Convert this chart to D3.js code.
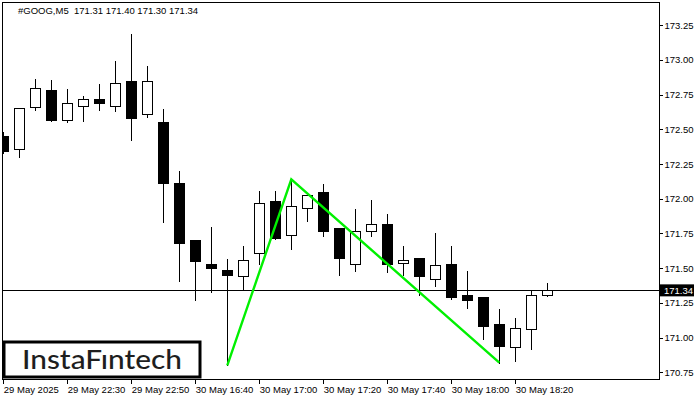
<!DOCTYPE html>
<html><head><meta charset="utf-8">
<script src="https://cdn.jsdelivr.net/npm/d3@7"></script>
<style>html,body{margin:0;padding:0;background:#fff;}svg{display:block;}</style>
</head><body>
<svg id="chart" width="700" height="400"></svg>
<script>
// ---- data ----
const symbol = "#GOOG,M5";
const lastOHLC = [171.31, 171.40, 171.30, 171.34];
const opens  = [172.45,172.36,172.66,172.78,172.57,172.67,172.72,172.67,172.85,172.61,
                172.55,172.11,171.70,171.53,171.49,171.44,171.61,171.98,171.74,171.93,
                172.05,171.79,171.53,171.77,171.82,171.54,171.57,171.42,171.53,171.31,
                171.29,171.10,170.93,171.06,171.31];
const highs  = [172.49,172.65,172.87,172.86,172.80,172.75,172.83,173.00,173.19,172.96,
                172.65,172.21,171.70,171.80,171.57,171.67,172.06,172.06,172.14,172.03,
                172.11,171.79,171.93,172.00,171.90,171.67,171.57,171.76,171.67,171.49,
                171.29,171.21,171.15,171.34,171.40];
const lows   = [172.33,172.30,172.64,172.56,172.55,172.56,172.64,172.63,172.42,172.59,
                171.83,171.41,171.27,171.33,170.80,171.35,171.53,171.71,171.64,171.84,
                171.73,171.45,171.48,171.73,171.47,171.45,171.31,171.37,171.28,171.21,
                170.99,170.82,170.83,170.92,171.30];
const closes = [172.34,172.65,172.80,172.57,172.69,172.72,172.69,172.83,172.58,172.85,
                172.11,171.68,171.55,171.50,171.45,171.56,171.97,171.72,171.95,172.03,
                171.77,171.57,171.77,171.82,171.53,171.56,171.44,171.52,171.29,171.27,
                171.08,170.94,171.07,171.31,171.34];
const timeTickIdx = [0,4,8,12,16,20,24,28,32];
const timeTickLabels = ["29 May 2025","29 May 22:30","29 May 22:50","30 May 16:40",
                        "30 May 17:00","30 May 17:20","30 May 17:40","30 May 18:00","30 May 18:20"];
const priceTicks = [170.75,171.00,171.25,171.50,171.75,172.00,172.25,172.50,172.75,173.00,173.25];
const currentPrice = 171.34;
const patternIdx = [14, 18, 31];
const patternVal = [170.80, 172.14, 170.82];
const logoText = "InstaFıntech";

// ---- layout ----
const L = 2.5, R = 659.5, T = 2.5, B = 379.5;
const svg = d3.select("#chart");
const x = d3.scaleLinear().domain([0, 34]).range([3.3, 547.3]);
const y = d3.scaleLinear().domain([170.75, 173.25]).range([372.3, 25.1]);
const px = v => Math.floor(x(v)) + 0.5;
const py = v => Math.round(y(v)) + 0.5;

const font = "'Liberation Sans', Arial, sans-serif";

svg.append("defs").append("clipPath").attr("id","clip")
  .append("rect").attr("x", L+0.5).attr("y", T+0.5).attr("width", R-L-1).attr("height", B-T-1);

const plot = svg.append("g").attr("clip-path","url(#clip)");

const data = opens.map((o,i)=>({i, o, h: highs[i], l: lows[i], c: closes[i]}));

// wicks
plot.selectAll("line.wick").data(data).join("line").attr("class","wick")
  .attr("x1", d=>px(d.i)).attr("x2", d=>px(d.i))
  .attr("y1", d=>py(d.h)).attr("y2", d=>py(d.l))
  .attr("stroke","#000").attr("stroke-width",1).attr("shape-rendering","crispEdges");

// bodies
plot.selectAll("rect.body").data(data).join("rect").attr("class","body")
  .attr("x", d=>px(d.i)-5).attr("width", 10)
  .attr("y", d=>py(Math.max(d.o,d.c)))
  .attr("height", d=>Math.max(1, py(Math.min(d.o,d.c)) - py(Math.max(d.o,d.c))))
  .attr("fill", d=> d.c >= d.o ? "#fff" : "#000")
  .attr("stroke","#000").attr("stroke-width",1).attr("shape-rendering","crispEdges");

// current price line
plot.append("line")
  .attr("x1", L).attr("x2", R)
  .attr("y1", py(currentPrice)).attr("y2", py(currentPrice))
  .attr("stroke","#000").attr("stroke-width",1).attr("shape-rendering","crispEdges");

// pattern line
plot.append("path")
  .datum(patternIdx.map((d,k)=>[d, patternVal[k]]))
  .attr("d", d3.line().x(d=>x(d[0])).y(d=>y(d[1])))
  .attr("fill","none").attr("stroke","#00f000").attr("stroke-width",2.4)
  .attr("stroke-linejoin","miter");

// frame
svg.append("rect").attr("x", L).attr("y", T).attr("width", R-L).attr("height", B-T)
  .attr("fill","none").attr("stroke","#000").attr("stroke-width",1);

// y axis
const yAxis = d3.axisRight(y).tickValues(priceTicks).tickSize(3).tickPadding(2)
  .tickFormat(d=>d.toFixed(2));
const gy = svg.append("g").attr("transform",`translate(${R},0)`).call(yAxis);
gy.select(".domain").remove();
gy.selectAll(".tick line").attr("stroke","#000").attr("shape-rendering","crispEdges");
gy.selectAll(".tick text").attr("fill","#000").style("font-family",font).style("font-size","9.5px");

// x axis
const xAxis = d3.axisBottom(x).tickValues(timeTickIdx).tickSize(4)
  .tickFormat((d,k)=>timeTickLabels[k]);
const gx = svg.append("g").attr("transform",`translate(0,${B})`).call(xAxis);
gx.select(".domain").remove();
gx.selectAll(".tick line").attr("stroke","#000").attr("shape-rendering","crispEdges");
gx.selectAll(".tick text").attr("fill","#000").attr("text-anchor","start")
  .attr("x", 0).attr("y", 13).attr("dy", 0)
  .style("font-family",font).style("font-size","9.5px");

// current price label
const cpY = y(currentPrice);
svg.append("rect").attr("x", 660).attr("y", cpY-6).attr("width", 34).attr("height", 12).attr("fill","#000");
svg.append("text").attr("x", 664).attr("y", cpY+3.5).text(currentPrice.toFixed(2))
  .attr("fill","#fff").style("font-family",font).style("font-size","9.5px");

// header
svg.append("text").attr("x", 18).attr("y", 14)
  .text(symbol + "  " + lastOHLC.map(v=>v.toFixed(2)).join(" "))
  .attr("fill","#000").style("font-family",font).style("font-size","9.5px")
  .attr("xml:space","preserve").style("white-space","pre");

// logo
svg.append("rect").attr("x", 4).attr("y", 342).attr("width", 196).attr("height", 35)
  .attr("fill","#fff").attr("stroke","#000").attr("stroke-width",3);
svg.append("text").attr("x", 22).attr("y", 368.5).text(logoText)
  .attr("fill","#1e1e1e").attr("textLength",160).attr("lengthAdjust","spacingAndGlyphs")
  .style("font-family","Lato, 'Open Sans', sans-serif").style("font-weight","500").style("font-size","26px");
</script>
</body></html>
